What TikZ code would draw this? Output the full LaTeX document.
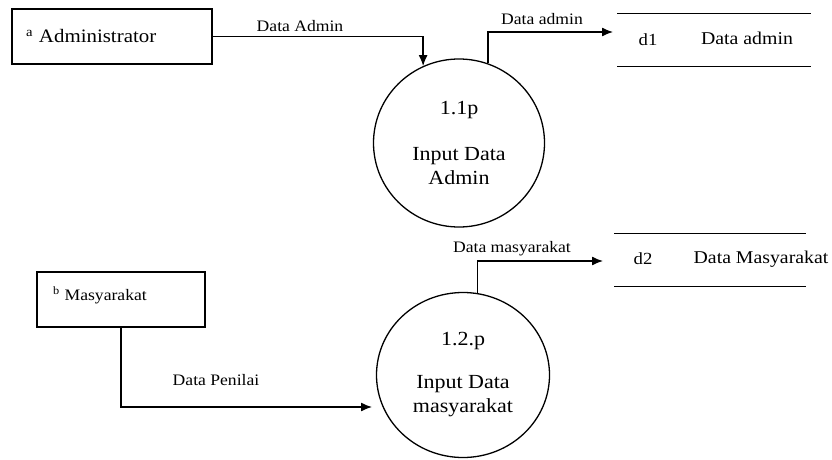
\documentclass[tikz,border=0pt]{standalone}
\usepackage{fontspec}
\setmainfont{Liberation Serif}[FakeStretch=1.1]
\usetikzlibrary{arrows.meta,shapes.geometric}
\begin{document}
\begin{tikzpicture}[x=1pt,y=-1pt, line width=1.3pt,
  ext/.style={draw, rectangle, inner sep=0pt, align=left},
  proc/.style={draw, ellipse, inner sep=0pt, align=center, font=\fontsize{20}{24}\selectfont},
  lbl/.style={font=\fontsize{16}{18}\selectfont, inner sep=0pt, anchor=base},
  stxt/.style={font=\fontsize{18}{20}\selectfont, inner sep=0pt, anchor=base},
  sid/.style={font=\fontsize{17}{20}\selectfont, inner sep=0pt, anchor=base},
  flow/.style={-{Latex[length=11pt,width=9pt]}},
  storebox/.style={inner sep=0pt, minimum height=52}]
\useasboundingbox (0,0) rectangle (832,460);

% external entities
\node[ext, minimum width=200, minimum height=55, text width=172,
      font=\fontsize{19}{22}\selectfont] (adm) at (112,36.5) {\textsuperscript{a}\hspace{6pt}Administrator};
\node[ext, minimum width=168, minimum height=55, text width=136,
      text height=11pt, text depth=9pt,
      font=\fontsize{16}{18}\selectfont] (mas) at (121,299.5) {\textsuperscript{b}\hspace{5pt}Masyarakat};

% processes
\node[proc, minimum width=171, minimum height=168] (p1) at (459,143) {1.1p\\[22pt]Input Data\\Admin};
\node[proc, minimum width=173, minimum height=165] (p2) at (463,375) {1.2.p\\[19pt]Input Data\\masyarakat};

% data stores
\node[storebox, minimum width=192] (s1) at (714,40) {};
\draw (s1.north west) -- (s1.north east) (s1.south west) -- (s1.south east);
\node[sid] (s1id) at (648,46) {d1};
\node[stxt] (s1name) at (747,45) {Data admin};

\node[storebox, minimum width=190] (s2) at (710,260) {};
\draw (s2.north west) -- (s2.north east) (s2.south west) -- (s2.south east);
\node[sid] (s2id) at (643,264) {d2};
\node[stxt] (s2name) at (761,263) {Data Masyarakat};

% arrow end points
\coordinate (t1) at (613,32);
\coordinate (t2) at (603,261);
\coordinate (t3) at (372,407);

% flows
\draw[flow] (adm.east) -| (p1.115);
\draw[flow] (p1.70) |- (t1);
\draw[flow] (p2.80) |- (t2);
\draw[flow] (mas.south) |- (t3);

% flow labels
\node[lbl] (l1) at (300,32) {Data Admin};
\node[lbl] (l2) at (542,25) {Data admin};
\node[lbl] (l3) at (512,252) {Data masyarakat};
\node[lbl] (l4) at (216,385) {Data Penilai};
\end{tikzpicture}
\end{document}
